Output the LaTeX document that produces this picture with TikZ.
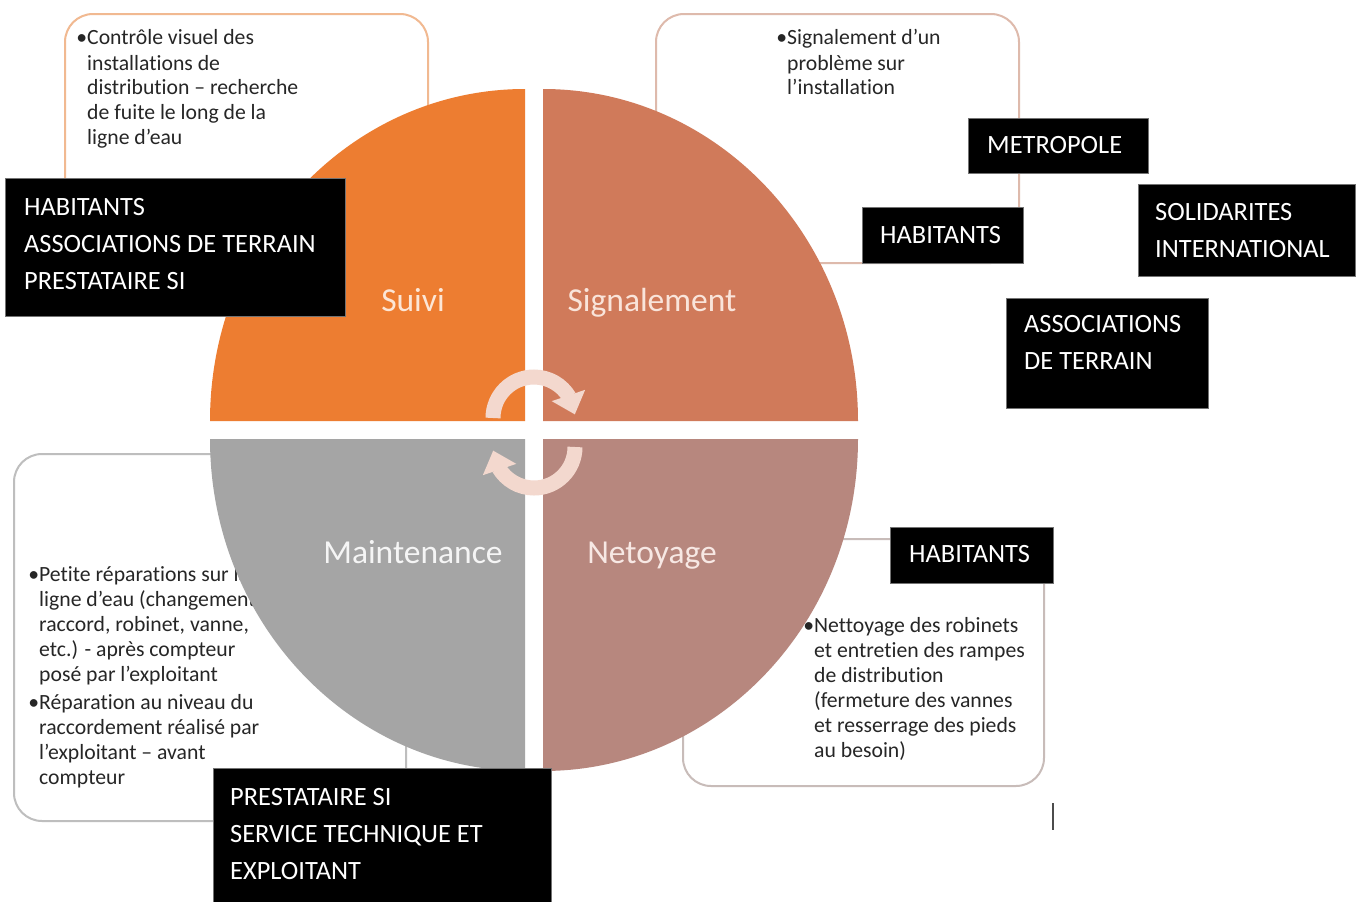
\documentclass[tikz,border=0pt]{standalone}
\usepackage{fontspec}
\setmainfont[Ligatures=NoCommon]{Carlito}
\usetikzlibrary{arrows.meta,bending}
\definecolor{suivi}{RGB}{237,125,49}
\definecolor{signal}{RGB}{208,122,90}
\definecolor{maint}{RGB}{165,165,165}
\definecolor{netoy}{RGB}{183,135,126}
\definecolor{arrowpink}{RGB}{243,216,206}
\definecolor{txt}{RGB}{38,38,38}
\definecolor{bsuivi}{RGB}{241,185,145}
\definecolor{bsignal}{RGB}{222,186,172}
\definecolor{bmaint}{RGB}{190,190,190}
\definecolor{bnetoy}{RGB}{200,188,185}
\definecolor{lsuivi}{RGB}{252,230,214}
\definecolor{lsignal}{RGB}{249,228,218}
\definecolor{lmaint}{RGB}{245,245,245}
\definecolor{lnetoy}{RGB}{247,232,228}
\begin{document}
\begin{tikzpicture}[x=1pt,y=-1pt,
  tbox/.style={draw=#1, line width=2pt, fill=white, rounded corners=28pt, anchor=north west, inner sep=0pt},
  bodytext/.style={anchor=base west, inner sep=0pt, text=txt, font=\fontsize{21.7}{25}\selectfont},
  blackbox/.style={fill=black, draw=black!55, line width=1.2pt, anchor=north west, inner sep=0pt},
  blacktext/.style={anchor=base west, inner sep=0pt, text=white, font=\fontsize{26.4}{37}\selectfont},
  quadlabel/.style={anchor=base, inner sep=0pt, font=\fontsize{33.5}{40}\selectfont},
  cyclearrow/.style={line width=15pt, draw=arrowpink, -{Triangle[length=20pt,width=34pt]}},
  stray/.style={draw=black!70, line width=2.5pt},
]
\path[use as bounding box, fill=white] (0,0) rectangle (1361,902);

% text boxes (behind the quadrants)
\node[tbox=bsuivi, minimum width=363pt, minimum height=287pt] (box1) at (64,13) {};
\node[tbox=bsignal, minimum width=363pt, minimum height=249pt] (box2) at (655,13) {};
\node[tbox=bmaint, minimum width=392pt, minimum height=367pt] (box3) at (13,453) {};
\node[tbox=bnetoy, minimum width=361pt, minimum height=247pt] (box4) at (682,538) {};

\node[bodytext] (t1) at (87,45) {\parbox[t]{400pt}{\raggedright\leavevmode\llap{•}Contrôle visuel des\\installations de\\distribution – recherche\\de fuite le long de la\\ligne d’eau}};
\node[bodytext] (t2) at (787,45) {\parbox[t]{400pt}{\raggedright\leavevmode\llap{•}Signalement d’un\\problème sur\\l’installation}};
\node[bodytext] (t3) at (39,581) {\parbox[t]{400pt}{\raggedright\leavevmode\llap{•}Petite réparations sur la\\ligne d’eau (changement de\\raccord, robinet, vanne,\\etc.) - après compteur\\posé par l’exploitant\\[3pt]\leavevmode\llap{•}Réparation au niveau du\\raccordement réalisé par\\l’exploitant – avant\\compteur}};
\node[bodytext] (t4) at (814,632) {\parbox[t]{400pt}{\raggedright\leavevmode\llap{•}Nettoyage des robinets\\et entretien des rampes\\de distribution\\(fermeture des vannes\\et resserrage des pieds\\au besoin)}};

% quadrants
\fill[suivi] (525,421) -- (210,421) arc[start angle=180, end angle=270, x radius=315, y radius=332] -- cycle;
\fill[signal] (543,421) -- (543,89) arc[start angle=270, end angle=360, x radius=315, y radius=332] -- cycle;
\fill[maint] (525,439) -- (210,439) arc[start angle=180, end angle=90, x radius=315, y radius=332] -- cycle;
\fill[netoy] (543,439) -- (858,439) arc[start angle=0, end angle=90, x radius=315, y radius=332] -- cycle;

\node[quadlabel, text=lsuivi] (q1) at (413,311) {Suivi};
\node[quadlabel, text=lsignal] (q2) at (652,311) {Signalement};
\node[quadlabel, text=lmaint] (q3) at (413,563) {Maintenance};
\node[quadlabel, text=lnetoy] (q4) at (652,563) {Netoyage};

% cycle arrows
\draw[cyclearrow] (493,418) arc[start angle=180, end angle=355, radius=41];
\draw[cyclearrow] (575,447) arc[start angle=0, end angle=175, radius=41];

% black boxes
\node[blackbox, minimum width=340pt, minimum height=138pt] (b1) at (5,178) {};
\node[blackbox, minimum width=180pt, minimum height=55pt] (b2) at (968,118) {};
\node[blackbox, minimum width=161pt, minimum height=56pt] (b3) at (862,207) {};
\node[blackbox, minimum width=217pt, minimum height=92pt] (b4) at (1138,184) {};
\node[blackbox, minimum width=202pt, minimum height=110pt] (b5) at (1006,298) {};
\node[blackbox, minimum width=163pt, minimum height=56pt] (b6) at (890,527) {};
\node[blackbox, minimum width=338pt, minimum height=140pt] (b7) at (213,768) {};

\node[blacktext] (b1t) at (24,215) {\parbox[t]{400pt}{\raggedright HABITANTS\\ASSOCIATIONS DE TERRAIN\\PRESTATAIRE SI}};
\node[blacktext] (b2t) at (987,153.5) {METROPOLE};
\node[blacktext] (b3t) at (880,243.5) {HABITANTS};
\node[blacktext] (b4t) at (1155,220.5) {\parbox[t]{400pt}{\raggedright SOLIDARITES\\INTERNATIONAL}};
\node[blacktext] (b5t) at (1024,332.5) {\parbox[t]{400pt}{\raggedright ASSOCIATIONS\\DE TERRAIN}};
\node[blacktext] (b6t) at (909,562.5) {HABITANTS};
\node[blacktext] (b7t) at (230,805.5) {\parbox[t]{400pt}{\raggedright PRESTATAIRE SI\\SERVICE TECHNIQUE ET\\EXPLOITANT}};

% stray mark
\coordinate (s1) at (1053,803);
\coordinate (s2) at (1053,830);
\draw[stray] (s1) -- (s2);
\end{tikzpicture}
\end{document}
